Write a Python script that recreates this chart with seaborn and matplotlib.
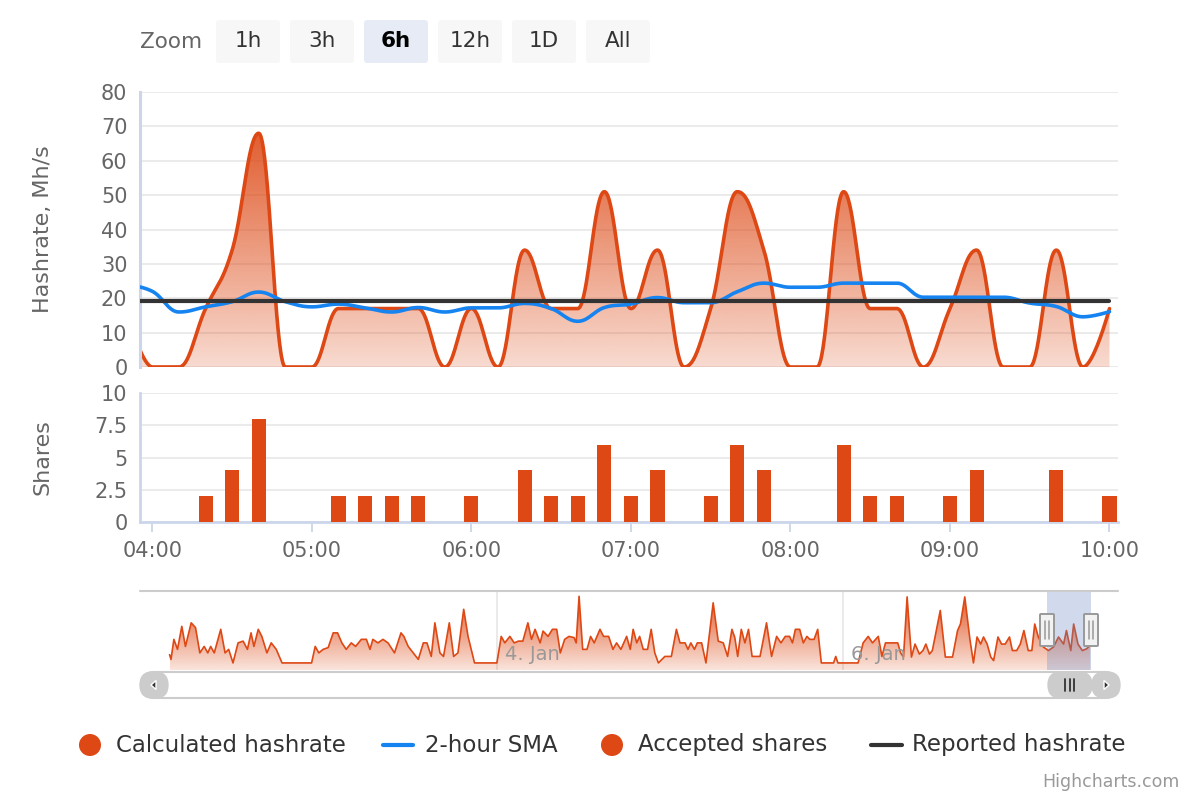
import numpy as np
import pandas as pd
import matplotlib
matplotlib.use("Agg")
import matplotlib.pyplot as plt
import seaborn as sns
from matplotlib.patches import FancyBboxPatch, Circle, Polygon
from matplotlib.colors import to_rgb

# ---------------- data ----------------
times = ["03:50", "04:00", "04:10", "04:20", "04:30", "04:40", "04:50", "05:00",
         "05:10", "05:20", "05:30", "05:40", "05:50", "06:00", "06:10", "06:20",
         "06:30", "06:40", "06:50", "07:00", "07:10", "07:20", "07:30", "07:40",
         "07:50", "08:00", "08:10", "08:20", "08:30", "08:40", "08:50", "09:00",
         "09:10", "09:20", "09:30", "09:40", "09:50", "10:00"]
calc_hashrate = [17, 0, 0, 17, 34, 68, 0, 0, 17, 17, 17, 17, 0, 17, 0, 34, 17, 17, 51,
                 17, 34, 0, 17, 51, 34, 0, 0, 51, 17, 17, 0, 17, 34, 0, 0, 34, 0, 17]
sma_2h = [24.0, 22.0, 16.0, 17.5, 19.0, 21.8, 19.0, 17.5, 18.3, 17.2, 16.0, 17.3, 16.0,
          17.2, 17.2, 18.5, 17.0, 13.3, 17.3, 18.3, 20.2, 18.7, 18.7, 21.9, 24.4, 23.2,
          23.2, 24.4, 24.4, 24.4, 20.3, 20.3, 20.3, 20.3, 18.6, 17.6, 14.6, 16.1]
reported_hashrate = [19.3, 19.3, 19.3, 19.3, 19.3, 19.3, 19.3, 19.3, 19.3, 19.3, 19.3,
                     19.3, 19.3, 19.3, 19.3, 19.3, 19.3, 19.3, 19.3, 19.3, 19.3, 19.3,
                     19.3, 19.3, 19.3, 19.3, 19.3, 19.3, 19.3, 19.3, 19.3, 19.3, 19.3,
                     19.3, 19.3, 19.3, 19.3, 19.3]
accepted_shares = [2, 0, 0, 2, 4, 8, 0, 0, 2, 2, 2, 2, 0, 2, 0, 4, 2, 2, 6, 2, 4, 0, 2,
                   6, 4, 0, 0, 6, 2, 2, 0, 2, 4, 0, 0, 4, 0, 2]
xtick_labels = ["04:00", "05:00", "06:00", "07:00", "08:00", "09:00", "10:00"]
hash_ticks = [0, 10, 20, 30, 40, 50, 60, 70, 80]
share_ticks = [0, 2.5, 5, 7.5, 10]
share_tick_labels = ["0", "2.5", "5", "7.5", "10"]

# navigator (hours from 4 Jan 00:00) and values
nav_hours = [-45.4, -45.2, -44.8, -44.3, -43.7, -43.2, -42.4, -41.8, -41.2, -40.6,
             -40.1, -39.7, -39.2, -38.3, -37.7, -37.2, -36.6, -35.9, -35.2, -34.6,
             -34.1, -33.7, -33.1, -32.6, -31.9, -31.3, -30.6, -29.8, -25.7, -25.2,
             -24.7, -24.1, -23.4, -22.7, -22.1, -21.5, -20.9, -20.2, -19.6, -18.8,
             -18.1, -17.6, -17.2, -16.5, -15.8, -15.1, -14.2, -13.3, -12.9, -12.3,
             -11.6,
             -11.4, -10.9, -10.2, -9.7, -9.1, -8.6, -7.9, -7.4, -6.6, -6.0,
             -5.4, -4.6, -4.0, -3.1, 0.0, 0.6, 1.1, 1.8, 2.4, 3.0,
             3.6, 4.3, 4.8, 5.3, 6.0, 6.4, 7.1, 7.7, 8.3, 8.8,
             9.4, 10.0, 10.7, 11.0, 11.4, 11.9, 12.5, 13.0, 13.5, 14.3,
             14.8, 15.5, 16.1, 16.6, 17.2, 18.0, 18.5, 18.9, 19.4, 19.8,
             20.3, 20.9, 21.4, 21.9,
             22.4, 23.3, 24.2, 24.9, 25.4, 26.1, 26.5, 26.9, 27.4, 27.8,
             28.4, 29.0, 30.0, 30.7, 31.4, 32.0, 32.6, 33.0, 33.4, 33.9,
             34.4, 34.9, 35.4, 36.5, 37.4, 38.1, 38.8, 39.4, 40.0, 40.6,
             41.0, 41.4, 42.0, 42.5, 43.0, 43.4, 44.0, 44.5, 45.0, 46.7,
             47.0, 47.3, 50.1, 50.8, 51.5, 52.1, 52.9, 53.4, 53.9, 54.5,
             55.1, 55.6, 56.0,
             56.4, 56.9, 57.5, 58.0, 58.6, 59.1, 59.5, 60.0, 60.4, 61.5,
             62.2, 63.2, 63.9, 64.3, 64.9, 65.6, 66.1, 66.6, 67.1, 67.5,
             68.0, 68.5, 68.9, 69.5, 70.0, 70.5, 71.1, 71.5, 72.1, 72.6,
             73.1, 73.7, 74.2, 74.6, 75.1, 75.8, 76.5, 77.2, 77.9, 78.6,
             79.0, 79.6, 80.0, 80.6, 81.2, 81.8, 82.3]
nav_values = [14, 6, 40, 23, 62, 28, 68, 60, 17, 28,
              17, 28, 17, 57, 17, 23, 0, 34, 37, 23,
              51, 28, 57, 45, 17, 34, 23, 0, 0, 28,
              17, 23, 26, 51, 51, 34, 23, 34, 28, 40,
              40, 23, 40, 34, 40, 34, 17, 51, 45, 28,
              17,
              14, 6, 34, 34, 11, 68, 17, 11, 68, 11,
              17, 91, 45, 0, 0, 45, 34, 45, 34, 37,
              37, 68, 40, 57, 34, 54, 45, 57, 57, 17,
              40, 45, 43, 34, 113, 23, 23, 45, 34, 57,
              45, 45, 23, 34, 23, 45, 23, 57, 34, 45,
              23, 23, 57, 17,
              0, 11, 11, 57, 34, 34, 23, 34, 23, 34,
              34, 0, 102, 37, 34, 11, 57, 43, 11, 57,
              34, 57, 11, 11, 68, 11, 45, 34, 45, 45,
              34, 57, 57, 34, 45, 40, 40, 57, 0, 0,
              11, 0, 0, 34, 45, 34, 45, 11, 34, 34,
              34, 34, 17,
              10, 112, 10, 32, 15, 21, 32, 15, 21, 89,
              10, 10, 55, 66, 112, 41, 0, 44, 32, 44,
              32, 10, 4, 44, 32, 32, 44, 21, 21, 32,
              55, 21, 21, 66, 44, 27, 21, 27, 44, 32,
              55, 21, 66, 32, 21, 24, 30]
nav_labels = ["4. Jan", "6. Jan"]
nav_label_hours = [0, 48]
window_hours = (76.3, 82.4)

ORANGE = "#DD4814"
BLUE = "#1584F0"
DARK = "#333333"
AXIS = "#ccd6eb"
GRID = "#e6e6e6"
LABEL = "#666666"

# ---------------- helpers ----------------
def hc_spline(xs, ys, smoothing=1.5, n=40):
    """Highcharts-style spline path sampled as points."""
    xs = list(map(float, xs)); ys = list(map(float, ys))
    N = len(xs)
    rc = [None] * N
    out_x, out_y = [xs[0]], [ys[0]]
    for i in range(1, N):
        px, py = xs[i], ys[i]
        lx, ly = xs[i - 1], ys[i - 1]
        if i < N - 1:
            nx, ny = xs[i + 1], ys[i + 1]
            d = smoothing + 1
            lcx = (smoothing * px + lx) / d; lcy = (smoothing * py + ly) / d
            rcx = (smoothing * px + nx) / d; rcy = (smoothing * py + ny) / d
            corr = 0.0
            if rcx != lcx:
                corr = (rcy - lcy) * (rcx - px) / (rcx - lcx) + py - rcy
            lcy += corr; rcy += corr
            if lcy > ly and lcy > py:
                lcy = max(ly, py); rcy = 2 * py - lcy
            elif lcy < ly and lcy < py:
                lcy = min(ly, py); rcy = 2 * py - lcy
            if rcy > ny and rcy > py:
                rcy = max(ny, py); lcy = 2 * py - rcy
            elif rcy < ny and rcy < py:
                rcy = min(ny, py); lcy = 2 * py - rcy
            rc[i] = (rcx, rcy)
        else:
            lcx, lcy = px, py
        p0 = np.array([lx, ly])
        p1 = np.array(rc[i - 1]) if rc[i - 1] is not None else p0
        p2 = np.array([lcx, lcy]); p3 = np.array([px, py])
        t = np.linspace(0, 1, n)[1:, None]
        b = ((1 - t) ** 3) * p0 + 3 * ((1 - t) ** 2) * t * p1 + 3 * (1 - t) * t ** 2 * p2 + t ** 3 * p3
        out_x.extend(b[:, 0]); out_y.extend(b[:, 1])
    return np.array(out_x), np.array(out_y)


def gradient_fill(ax, x, y, base, ybot, ytop, color, a_top, a_bot, zorder):
    poly = ax.fill_between(x, y, base, facecolor="none", edgecolor="none")
    rgb = to_rgb(color)
    img = np.zeros((256, 1, 4))
    img[:, 0, :3] = rgb
    img[:, 0, 3] = np.linspace(a_bot, a_top, 256)
    im = ax.imshow(img, aspect="auto", origin="lower", interpolation="bilinear",
                   extent=[min(x), max(x), ybot, ytop], zorder=zorder)
    im.set_clip_path(poly.get_paths()[0], transform=ax.transData)
    return im


# ---------------- figure ----------------
sns.set_theme(style="white")
plt.rcParams["font.family"] = ["DejaVu Sans"]

fig = plt.figure(figsize=(12, 8), dpi=100)
fig.patch.set_facecolor("white")

W, H = 1200.0, 800.0
def axrect(x0, y0, x1, y1):
    return [x0 / W, 1 - y1 / H, (x1 - x0) / W, (y1 - y0) / H]

ax1 = fig.add_axes(axrect(140, 92, 1118, 367))
ax2 = fig.add_axes(axrect(140, 393, 1118, 522))
axn = fig.add_axes(axrect(140, 591, 1118, 670))

t0 = pd.Timestamp("2024-01-07 04:00")
minutes = np.array([(pd.Timestamp("2024-01-07 " + s) - t0).total_seconds() / 60 for s in times])
XLIM = (-4.66, 363.2)

# ---- top panel ----
sx, sy = hc_spline(minutes, calc_hashrate)
gradient_fill(ax1, sx, sy, 0, 0, 80, ORANGE, 1.0, 0.2, zorder=1.5)
sns.lineplot(x=sx, y=sy, ax=ax1, color=ORANGE, linewidth=2.6, sort=False, zorder=2)
bx, by = hc_spline(minutes, sma_2h)
sns.lineplot(x=bx, y=by, ax=ax1, color=BLUE, linewidth=2.6, sort=False, zorder=3)
sns.lineplot(x=minutes, y=reported_hashrate, ax=ax1, color=DARK, linewidth=3.0, zorder=4)
ax1.set_xlim(*XLIM); ax1.set_ylim(0, 80)
ax1.set_yticks(hash_ticks)
ax1.set_xticks([])
ax1.grid(axis="y", color=GRID, linewidth=1.1)
ax1.set_axisbelow(True)
for s in ["top", "right", "bottom"]:
    ax1.spines[s].set_visible(False)
ax1.spines["left"].set_color(AXIS); ax1.spines["left"].set_linewidth(2.2)
ax1.tick_params(axis="y", length=0, pad=9, labelsize=15, labelcolor=LABEL)
ax1.set_xlabel(""); ax1.set_ylabel("")

# ---- shares panel ----
sns.barplot(x=minutes, y=accepted_shares, native_scale=True, width=0.53, color=ORANGE,
            saturation=1, errorbar=None, linewidth=0, ax=ax2, zorder=3)
ax2.set_xlim(*XLIM); ax2.set_ylim(0, 10)
ax2.set_yticks(share_ticks); ax2.set_yticklabels(share_tick_labels)
ax2.set_xticks([0, 60, 120, 180, 240, 300, 360]); ax2.set_xticklabels(xtick_labels)
ax2.grid(axis="y", color=GRID, linewidth=1.1)
ax2.grid(axis="x", visible=False)
ax2.set_axisbelow(True)
for s in ["top", "right"]:
    ax2.spines[s].set_visible(False)
for s in ["left", "bottom"]:
    ax2.spines[s].set_color(AXIS); ax2.spines[s].set_linewidth(2.0)
ax2.tick_params(axis="y", length=0, pad=9, labelsize=15, labelcolor=LABEL)
ax2.tick_params(axis="x", bottom=True, length=7.5, width=1.3, color=AXIS, pad=6,
                labelsize=15, labelcolor=LABEL)
ax2.set_xlabel(""); ax2.set_ylabel("")

# ---- navigator ----
NAV_Y = (-12, 122)
nh = np.array(nav_hours, float); nv = np.array(nav_values, float)
for h in nav_label_hours:
    axn.axvline(h, color=GRID, linewidth=1.2, zorder=0.5)
gradient_fill(axn, nh, nv, NAV_Y[0], NAV_Y[0], NAV_Y[1], ORANGE, 0.95, 0.15, zorder=1)
sns.lineplot(x=nh, y=nv, ax=axn, color=ORANGE, linewidth=1.2, sort=False, zorder=2)
axn.axvspan(window_hours[0], window_hours[1], color=(102 / 255, 133 / 255, 194 / 255),
            alpha=0.3, linewidth=0, zorder=3)
for h, lab in zip(nav_label_hours, nav_labels):
    axn.text(h + 1.1, 0.19, lab, transform=axn.get_xaxis_transform(), ha="left",
             va="center", fontsize=14, color="#999999", zorder=2.5)
axn.set_xlim(-49.5, 86.15); axn.set_ylim(*NAV_Y)
axn.set_xticks([]); axn.set_yticks([])
axn.set_xlabel(""); axn.set_ylabel("")
for s in axn.spines.values():
    s.set_visible(False)
axn.grid(False)

# ---- overlay (buttons, legend, scrollbar) ----
ov = fig.add_axes([0, 0, 1, 1], zorder=20)
ov.set_xlim(0, W); ov.set_ylim(H, 0); ov.set_axis_off()
ov.patch.set_alpha(0)

# axis titles
fig.text(43 / W, 1 - 229.5 / H, "Hashrate, Mh/s", rotation=90, ha="center", va="center",
         fontsize=16, color=LABEL)
fig.text(43 / W, 1 - 457.5 / H, "Shares", rotation=90, ha="center", va="center",
         fontsize=16, color=LABEL)

# range selector
ov.text(140, 42, "Zoom", ha="left", va="center", fontsize=15.5, color=LABEL)
btn_labels = ["1h", "3h", "6h", "12h", "1D", "All"]
btn_x = [216, 290, 364, 438, 512, 586]
for lab, x0 in zip(btn_labels, btn_x):
    sel = lab == "6h"
    ov.add_patch(FancyBboxPatch((x0, 20), 64, 43, boxstyle="round,pad=0,rounding_size=3",
                                facecolor="#e6ebf5" if sel else "#f7f7f7", edgecolor="none"))
    ov.text(x0 + 32, 41, lab, ha="center", va="center", fontsize=15.5,
            color="#000000" if sel else "#333333", fontweight="bold" if sel else "normal")

# navigator top outline
ov.plot([140, 1118], [591, 591], color="#cccccc", linewidth=1.5)

# navigator handles
for cx in [1047, 1091]:
    ov.add_patch(FancyBboxPatch((cx - 7, 614), 14, 32, boxstyle="round,pad=0,rounding_size=1",
                                facecolor="#f2f2f2", edgecolor="#999999", linewidth=1.4))
    ov.plot([cx - 2, cx - 2], [621, 639], color="#999999", linewidth=1.1)
    ov.plot([cx + 2, cx + 2], [621, 639], color="#999999", linewidth=1.1)

# scrollbar
ov.add_patch(FancyBboxPatch((141, 672), 977, 26, boxstyle="round,pad=0,rounding_size=13",
                            facecolor="white", edgecolor="#cccccc", linewidth=1.5))
ov.add_patch(FancyBboxPatch((1048, 672), 44, 26, boxstyle="round,pad=0,rounding_size=13",
                            facecolor="#cccccc", edgecolor="#cccccc", linewidth=1))
for lx in [1065, 1069.5, 1074]:
    ov.plot([lx, lx], [679, 691], color="#333333", linewidth=1.3)
ov.add_patch(FancyBboxPatch((140, 672), 28, 26, boxstyle="round,pad=0,rounding_size=13",
                            facecolor="#cccccc", edgecolor="#cccccc", linewidth=1))
ov.add_patch(FancyBboxPatch((1092, 672), 28, 26, boxstyle="round,pad=0,rounding_size=13",
                            facecolor="#cccccc", edgecolor="#cccccc", linewidth=1))
ov.add_patch(Polygon([(151, 685), (156, 680.5), (156, 689.5)], closed=True, facecolor="#333333"))
ov.add_patch(Polygon([(1109, 685), (1104, 680.5), (1104, 689.5)], closed=True, facecolor="#333333"))

# legend
LEG_Y = 745
ov.add_patch(Circle((90, LEG_Y), 11, facecolor=ORANGE, edgecolor="none"))
ov.text(116, LEG_Y, "Calculated hashrate", ha="left", va="center", fontsize=16.5, color="#333333")
ov.plot([383, 413], [LEG_Y, LEG_Y], color=BLUE, linewidth=3)
ov.text(425, LEG_Y, "2-hour SMA", ha="left", va="center", fontsize=16.5, color="#333333")
ov.add_patch(Circle((612, LEG_Y), 11, facecolor=ORANGE, edgecolor="none"))
ov.text(638, LEG_Y, "Accepted shares", ha="left", va="center", fontsize=16.5, color="#333333")
ov.plot([871, 902], [LEG_Y, LEG_Y], color=DARK, linewidth=3)
ov.text(912, LEG_Y, "Reported hashrate", ha="left", va="center", fontsize=16.5, color="#333333")

# credit
ov.text(1180, 782, "Highcharts.com", ha="right", va="center", fontsize=12.5, color="#999999")

fig.savefig("out.png", dpi=100, facecolor="white")
